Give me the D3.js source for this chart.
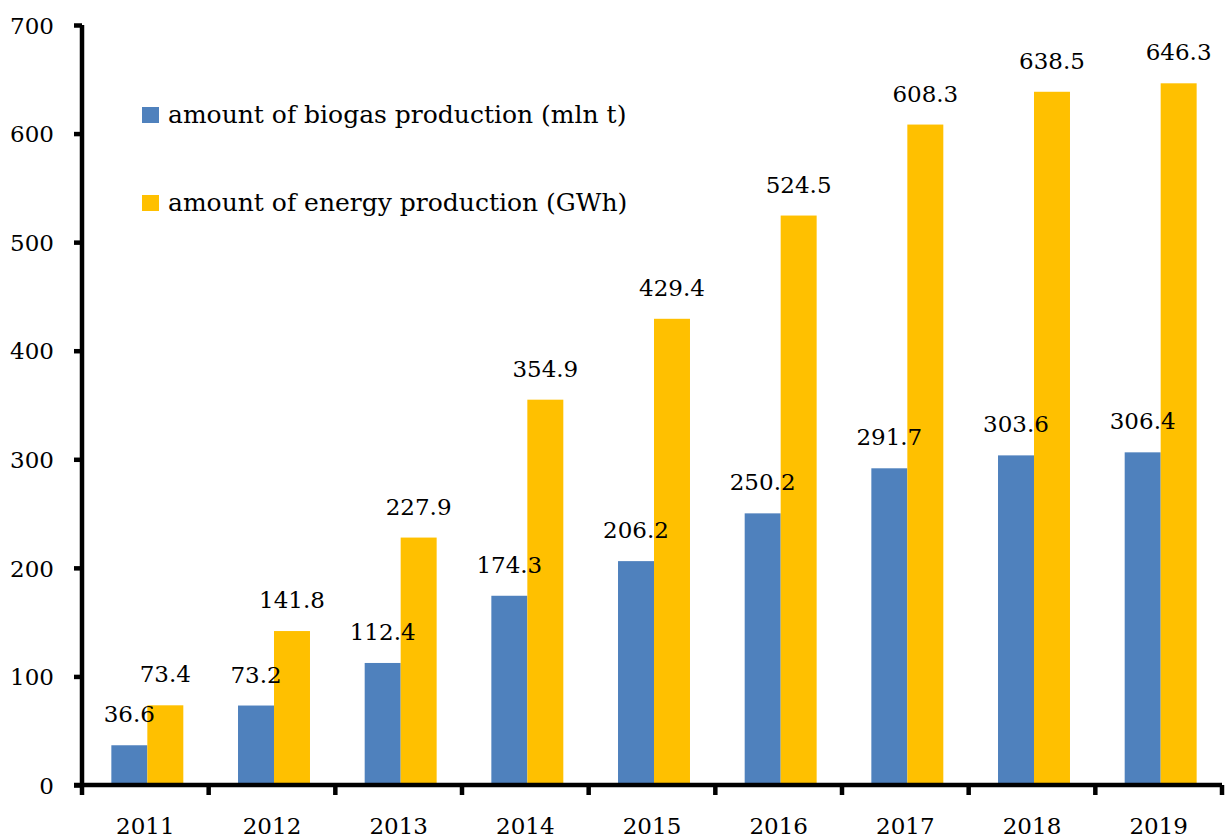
<!DOCTYPE html>
<html>
<head>
<meta charset="utf-8">
<script src="https://cdn.jsdelivr.net/npm/d3@7"></script>
<style>
  body { margin: 0; background: #fff; }
  svg text { font-family: "DejaVu Serif", serif; fill: #000; }
</style>
</head>
<body>
<svg id="chart"></svg>
<script>
// Chart data
const years = ["2011", "2012", "2013", "2014", "2015", "2016", "2017", "2018", "2019"];
const biogas = [36.6, 73.2, 112.4, 174.3, 206.2, 250.2, 291.7, 303.6, 306.4];
const energy = [73.4, 141.8, 227.9, 354.9, 429.4, 524.5, 608.3, 638.5, 646.3];
const seriesNames = ["amount of biogas production (mln t)", "amount of energy production (GWh)"];
const seriesColors = ["#4F81BD", "#FFC000"];
const yTicks = [0, 100, 200, 300, 400, 500, 600, 700];

const width = 1227, height = 838;
const margin = { left: 82, right: 5, top: 25, bottom: 53 };
const fontSize = 23;

const svg = d3.select("#chart")
    .attr("width", width)
    .attr("height", height);

// Scales
const x0 = d3.scaleBand()
    .domain(years)
    .range([margin.left, width - margin.right])
    .padding(0);

const x1 = d3.scaleBand()
    .domain([0, 1])
    .range([2, x0.bandwidth() + 2])
    .paddingInner(0)
    .paddingOuter(0.76);

const y = d3.scaleLinear()
    .domain([0, 700])
    .range([height - margin.bottom, margin.top]);

// Bars
const rows = years.map((yr, i) => ({ year: yr, values: [biogas[i], energy[i]] }));

const groups = svg.append("g")
    .selectAll("g")
    .data(rows)
    .join("g")
    .attr("transform", d => `translate(${x0(d.year)},0)`);

groups.selectAll("rect")
    .data(d => d.values.map((v, k) => ({ k, v })))
    .join("rect")
    .attr("x", d => x1(d.k))
    .attr("y", d => y(d.v))
    .attr("width", x1.bandwidth())
    .attr("height", d => y(0) - y(d.v))
    .attr("fill", d => seriesColors[d.k]);

// Value labels
groups.selectAll("text.val")
    .data(d => d.values.map((v, k) => ({ k, v })))
    .join("text")
    .attr("class", "val")
    .attr("x", d => x1(d.k) + x1.bandwidth() / 2)
    .attr("y", d => y(d.v) - 23)
    .attr("text-anchor", "middle")
    .attr("font-size", fontSize)
    .text(d => d.v.toFixed(1));

// Y axis
const yAxis = svg.append("g")
    .attr("transform", `translate(${margin.left},0)`)
    .call(d3.axisLeft(y).tickValues(yTicks).tickSize(8).tickPadding(20).tickFormat(d3.format("d")));
yAxis.attr("font-family", null);
yAxis.select(".domain").attr("stroke", "#000").attr("stroke-width", 4.5)
    .attr("d", `M0,${y(700)}V${y(0)}`);
yAxis.selectAll(".tick line").attr("stroke", "#000").attr("stroke-width", 4.5);
yAxis.selectAll(".tick text")
    .attr("font-size", fontSize)
    .attr("dy", "0.36em");

// X axis line and boundary ticks
const xAxis = svg.append("g")
    .attr("transform", `translate(0,${y(0)})`)
    .call(d3.axisBottom(x0).tickSize(0).tickPadding(32));
xAxis.attr("font-family", null);
xAxis.select(".domain").attr("stroke", "#000").attr("stroke-width", 4.5)
    .attr("d", `M${margin.left - 8},0H${width - margin.right}`);
xAxis.selectAll(".tick text")
    .attr("font-size", fontSize)
    .attr("dy", "0.73em");

const bounds = years.map(d => x0(d)).concat([x0(years[years.length - 1]) + x0.bandwidth()]);
xAxis.selectAll("line.bound")
    .data(bounds)
    .join("line")
    .attr("class", "bound")
    .attr("x1", d => d).attr("x2", d => d)
    .attr("y1", 0).attr("y2", 10)
    .attr("stroke", "#000")
    .attr("stroke-width", 4.5);

// Legend
const legend = svg.append("g")
    .attr("transform", "translate(142,107)");

const items = legend.selectAll("g")
    .data(seriesNames)
    .join("g")
    .attr("transform", (d, i) => `translate(0,${i * 88})`);

items.append("rect")
    .attr("width", 17)
    .attr("height", 16)
    .attr("fill", (d, i) => seriesColors[i]);

items.append("text")
    .attr("x", 26)
    .attr("y", 16)
    .attr("font-size", 25)
    .text(d => d);
</script>
</body>
</html>
